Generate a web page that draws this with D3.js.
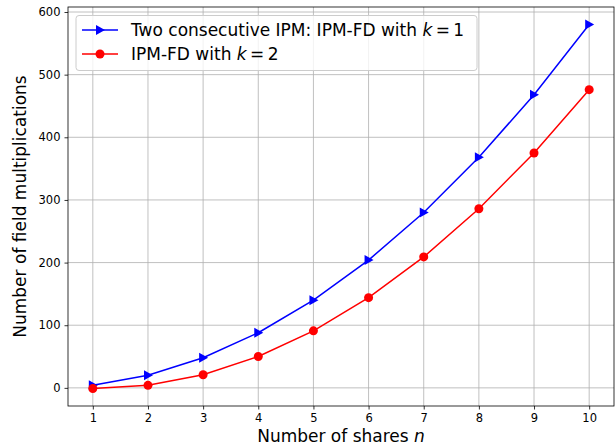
<!DOCTYPE html>
<html>
<head>
<meta charset="utf-8">
<script src="https://cdn.jsdelivr.net/npm/d3@7"></script>
<style>
  body { margin: 0; background: #fff; }
  text { font-family: "DejaVu Sans", sans-serif; fill: #000; }
</style>
</head>
<body>
<svg id="chart" width="616" height="447"></svg>
<script>
// data
var shares = [1, 2, 3, 4, 5, 6, 7, 8, 9, 10]
var twoIpm = [4, 20, 48, 88, 140, 204, 280, 368, 468, 580]
var ipmK2 = [-1, 4, 21, 50, 91, 144, 209, 286, 375, 476]
var yTicks = [0, 100, 200, 300, 400, 500, 600]

var svg = d3.select('#chart')
var pl = 68, pr = 614, pt = 7, pb = 406

var x = d3.scaleLinear().domain([0.55, 10.45]).range([pl, pr])
var y = d3.scaleLinear().domain([-28.95, 608]).range([pb, pt])

// grid
svg.append('g')
  .selectAll('line')
  .data(shares)
  .enter()
  .append('line')
  .attr('x1', d => x(d)).attr('x2', d => x(d))
  .attr('y1', pt).attr('y2', pb)
  .attr('stroke', '#b0b0b0').attr('stroke-width', 0.8)

svg.append('g')
  .selectAll('line')
  .data(yTicks)
  .enter()
  .append('line')
  .attr('x1', pl).attr('x2', pr)
  .attr('y1', d => y(d)).attr('y2', d => y(d))
  .attr('stroke', '#b0b0b0').attr('stroke-width', 0.8)

// axes
var xAxis = svg.append('g')
  .attr('transform', 'translate(0,' + pb + ')')
  .call(d3.axisBottom(x).tickValues(shares).tickSize(3.5).tickPadding(4).tickFormat(d3.format('d')))
var yAxis = svg.append('g')
  .attr('transform', 'translate(' + pl + ',0)')
  .call(d3.axisLeft(y).tickValues(yTicks).tickSize(3.5).tickPadding(4))

;[xAxis, yAxis].forEach(a => {
  a.select('.domain').remove()
  a.selectAll('text').style('font-size', '11.5px').style('font-family', 'DejaVu Sans').attr('fill', '#000')
  a.selectAll('line').attr('stroke', '#000').attr('stroke-width', 0.8)
})

svg.append('rect')
  .attr('x', pl).attr('y', pt)
  .attr('width', pr - pl).attr('height', pb - pt)
  .attr('fill', 'none').attr('stroke', '#000').attr('stroke-width', 0.8)

// lines
var line = d3.line()
  .x((d, i) => x(shares[i]))
  .y(d => y(d))

svg.append('path')
  .attr('d', line(twoIpm))
  .attr('fill', 'none').attr('stroke', '#0000ff').attr('stroke-width', 1.5)

svg.append('path')
  .attr('d', line(ipmK2))
  .attr('fill', 'none').attr('stroke', '#ff0000').attr('stroke-width', 1.5)

var tri = 'M-4,-5L5,0L-4,5Z'

svg.append('g')
  .selectAll('path')
  .data(twoIpm)
  .enter()
  .append('path')
  .attr('d', tri)
  .attr('transform', (d, i) => 'translate(' + x(shares[i]) + ',' + y(d) + ')')
  .attr('fill', '#0000ff')

svg.append('g')
  .selectAll('circle')
  .data(ipmK2)
  .enter()
  .append('circle')
  .attr('cx', (d, i) => x(shares[i]))
  .attr('cy', d => y(d))
  .attr('r', 4.5)
  .attr('fill', '#ff0000')

// axis labels
var xl = svg.append('text')
  .attr('x', (pl + pr) / 2).attr('y', 442)
  .attr('text-anchor', 'middle')
  .style('font-size', '17px')
xl.append('tspan').text('Number of shares ')
xl.append('tspan').style('font-style', 'italic').text('n')

svg.append('text')
  .attr('transform', 'translate(26,' + ((pt + pb) / 2) + ') rotate(-90)')
  .attr('text-anchor', 'middle')
  .style('font-size', '17px')
  .text('Number of field multiplications')

// legend
var lg = svg.append('g')
lg.append('rect')
  .attr('x', 76).attr('y', 15.5)
  .attr('width', 401).attr('height', 55)
  .attr('rx', 3)
  .attr('fill', '#fff').attr('fill-opacity', 0.8)
  .attr('stroke', '#cccccc').attr('stroke-width', 1)

var legendItems = [
  { pre: 'Two consecutive IPM: IPM-FD with ', val: '1', color: '#0000ff', marker: 'tri' },
  { pre: 'IPM-FD with ', val: '2', color: '#ff0000', marker: 'circle' }
]

legendItems.forEach((it, i) => {
  var cy = 30 + i * 24
  lg.append('line')
    .attr('x1', 82).attr('x2', 118)
    .attr('y1', cy).attr('y2', cy)
    .attr('stroke', it.color).attr('stroke-width', 1.5)
  if (it.marker === 'tri') {
    lg.append('path').attr('d', tri)
      .attr('transform', 'translate(100,' + cy + ')')
      .attr('fill', it.color)
  } else {
    lg.append('circle').attr('cx', 100).attr('cy', cy).attr('r', 4.5).attr('fill', it.color)
  }
  var t = lg.append('text')
    .attr('x', 131).attr('y', cy + 6)
    .style('font-size', '17px')
  t.append('tspan').text(it.pre)
  t.append('tspan').style('font-style', 'italic').text('k')
  t.append('tspan').text('\u2009=\u2009' + it.val)
})
</script>
</body>
</html>
